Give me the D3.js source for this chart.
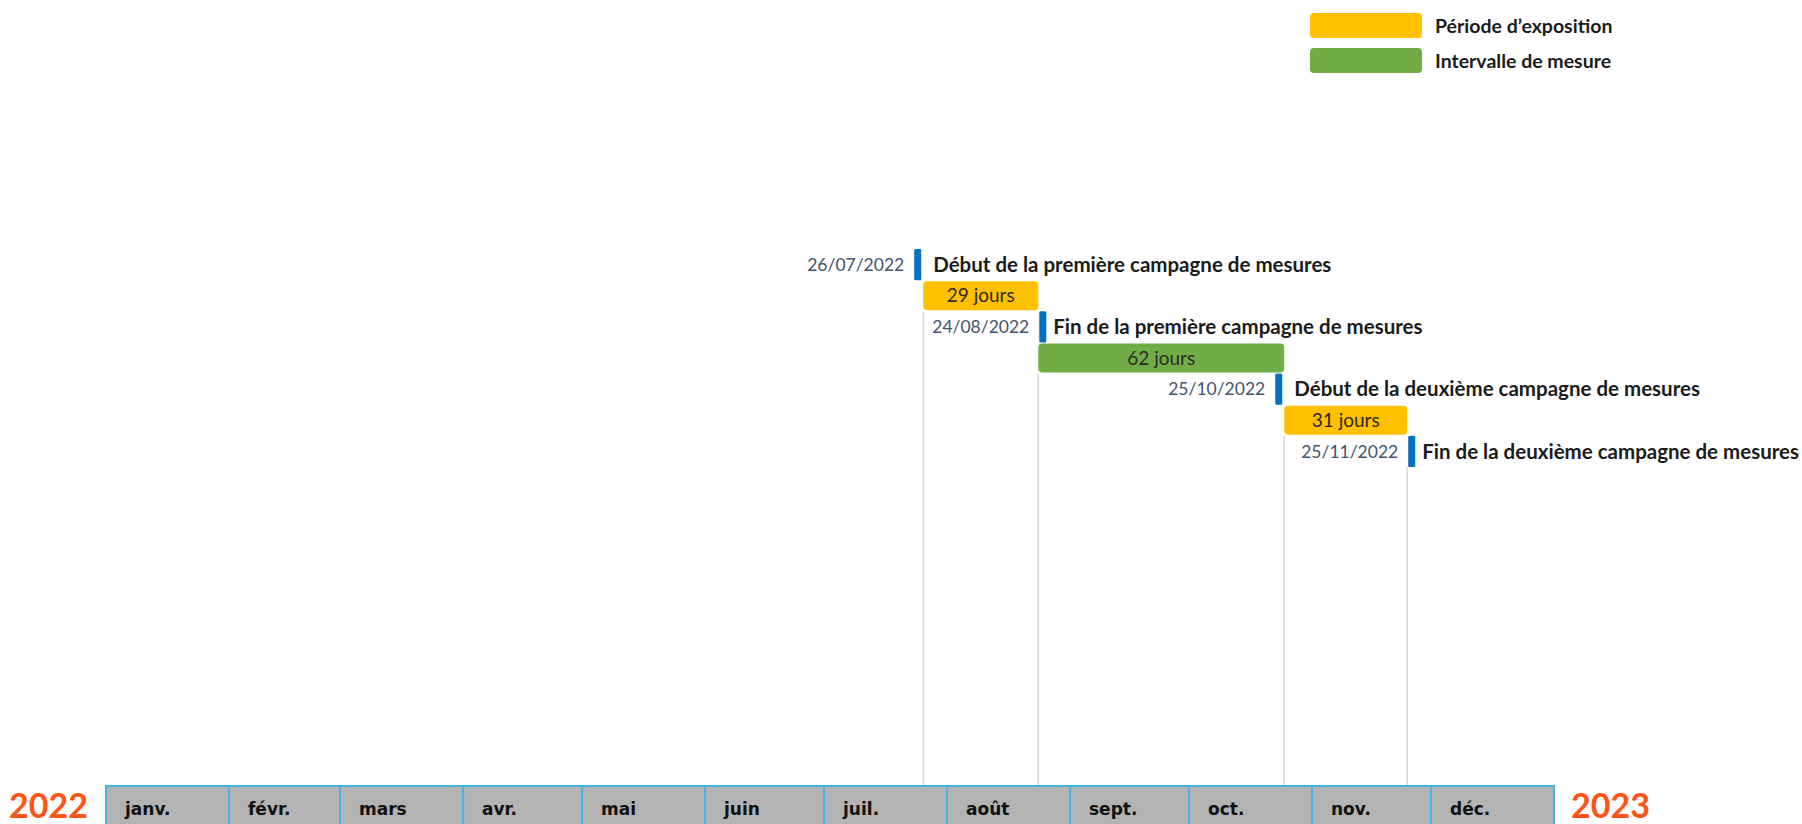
<!DOCTYPE html>
<html>
<head>
<meta charset="utf-8">
<script src="https://cdn.jsdelivr.net/npm/d3@7"></script>
<style>
    body { margin: 0; background: #fff; }
    svg { display: block; }
    .label { font-family: Lato, "Open Sans", sans-serif; font-weight: bold; fill: #1b1b1b; }
    .date { font-family: Lato, "Open Sans", sans-serif; fill: #44546a; }
    .month { font-family: "DejaVu Sans", sans-serif; font-weight: bold; fill: #111; }
</style>
</head>
<body>
<div id="chart"></div>
<script>
// Timeline data
const months = ["janv.", "févr.", "mars", "avr.", "mai", "juin", "juil.", "août", "sept.", "oct.", "nov.", "déc."];
const years = ["2022", "2023"];
const eventDates = ["2022-07-26", "2022-08-24", "2022-10-25", "2022-11-25"];
const eventLabels = [
    "Début de la première campagne de mesures",
    "Fin de la première campagne de mesures",
    "Début de la deuxième campagne de mesures",
    "Fin de la deuxième campagne de mesures"
];
// Each period runs from one event to the next one.
const periodKinds = ["exposition", "mesure", "exposition"];
const legendKinds = ["exposition", "mesure"];
const legendLabels = ["Période d’exposition", "Intervalle de mesure"];

const width = 1802;
const height = 824;

const parseDate = d3.timeParse("%Y-%m-%d");
const formatDate = d3.timeFormat("%d/%m/%Y");

const events = eventDates.map((d, i) => ({
    date: parseDate(d),
    label: eventLabels[i],
    start: eventLabels[i].startsWith("Début")
}));

const periods = periodKinds.map((kind, i) => ({
    kind: kind,
    from: events[i].date,
    to: events[i + 1].date,
    days: d3.timeDay.count(events[i].date, events[i + 1].date)
}));

// Rows alternate: event, period, event, period ...
const rows = [];
events.forEach((e, i) => {
    rows.push({ type: "event", item: e });
    if (periods[i]) rows.push({ type: "period", item: periods[i] });
});

const color = d3.scaleOrdinal()
    .domain(legendKinds)
    .range(["#ffc000", "#70ad47"]);

// Scales
const yearStart = new Date(2022, 0, 1);
const yearEnd = new Date(2023, 0, 1);

const x = d3.scaleTime()
    .domain([yearStart, yearEnd])
    .range([106, 1554]);

const y = d3.scaleBand()
    .domain(d3.range(rows.length))
    .range([249, 467]);

const bandTop = 786;

const svg = d3.select("#chart").append("svg")
    .attr("width", width)
    .attr("height", height);

svg.append("rect")
    .attr("width", width)
    .attr("height", height)
    .attr("fill", "#fff");

// Guide lines from the last element at each date down to the month band.
svg.append("g")
    .selectAll("line")
    .data(events)
    .join("line")
    .attr("x1", d => x(d.date))
    .attr("x2", d => x(d.date))
    .attr("y1", (d, i) => {
        const row = Math.min(i * 2 + 1, rows.length - 1);
        return y(row) + y.bandwidth();
    })
    .attr("y2", bandTop)
    .attr("stroke", "#d6d6d6")
    .attr("stroke-width", 1.5);

// Period bars
const periodRows = rows.map((r, i) => ({ ...r, row: i })).filter(r => r.type === "period");

const bars = svg.append("g")
    .selectAll("g")
    .data(periodRows)
    .join("g");

bars.append("rect")
    .attr("x", d => x(d.item.from))
    .attr("y", d => y(d.row) + 1)
    .attr("width", d => x(d.item.to) - x(d.item.from))
    .attr("height", y.bandwidth() - 2)
    .attr("rx", 4)
    .attr("fill", d => color(d.item.kind));

bars.append("text")
    .attr("class", "date")
    .attr("x", d => (x(d.item.from) + x(d.item.to)) / 2)
    .attr("y", d => y(d.row) + y.bandwidth() / 2)
    .attr("dy", "0.35em")
    .attr("text-anchor", "middle")
    .style("font-size", "19px")
    .style("fill", "#2e2b26")
    .text(d => d.item.days + " jours");

// Event markers
const eventRows = rows.map((r, i) => ({ ...r, row: i })).filter(r => r.type === "event");
const markerWidth = 7;

const marks = svg.append("g")
    .selectAll("g")
    .data(eventRows)
    .join("g");

const markerX = d => d.item.start ? x(d.item.date) - markerWidth - 2 : x(d.item.date) + 1;

marks.append("rect")
    .attr("x", markerX)
    .attr("y", d => y(d.row))
    .attr("width", markerWidth)
    .attr("height", y.bandwidth())
    .attr("rx", 1.5)
    .attr("fill", "#0070c0");

marks.append("text")
    .attr("class", "date")
    .attr("x", d => markerX(d) - 10)
    .attr("y", d => y(d.row) + y.bandwidth() / 2)
    .attr("dy", "0.35em")
    .attr("text-anchor", "end")
    .style("font-size", "17.5px")
    .text(d => formatDate(d.item.date));

marks.append("text")
    .attr("class", "label")
    .attr("x", d => markerX(d) + markerWidth + (d.item.start ? 12 : 7))
    .attr("y", d => y(d.row) + y.bandwidth() / 2)
    .attr("dy", "0.35em")
    .style("font-size", "20.5px")
    .text(d => d.item.label);

// Month band
const monthStarts = d3.timeMonths(yearStart, yearEnd);

const cells = svg.append("g")
    .selectAll("g")
    .data(monthStarts)
    .join("g");

cells.append("rect")
    .attr("x", d => x(d))
    .attr("y", bandTop)
    .attr("width", d => x(d3.timeMonth.offset(d, 1)) - x(d))
    .attr("height", 60)
    .attr("fill", "#b3b3b3")
    .attr("stroke", "#47b3e3")
    .attr("stroke-width", 2);

cells.append("text")
    .attr("class", "month")
    .attr("x", d => x(d) + 19)
    .attr("y", 815)
    .style("font-size", "17px")
    .text((d, i) => months[i]);

// Year labels on both ends of the band
svg.append("g")
    .selectAll("text")
    .data(years)
    .join("text")
    .attr("x", (d, i) => i === 0 ? x(yearStart) - 18 : x(yearEnd) + 17)
    .attr("y", 818)
    .attr("text-anchor", (d, i) => i === 0 ? "end" : "start")
    .style("font-family", "Lato, sans-serif")
    .style("font-weight", "bold")
    .style("font-size", "34px")
    .style("fill", "#ff5414")
    .text(d => d);

// Legend
const legend = svg.append("g")
    .attr("transform", "translate(1310, 13)");

const legendItem = legend.selectAll("g")
    .data(legendKinds)
    .join("g")
    .attr("transform", (d, i) => "translate(0," + i * 35 + ")");

legendItem.append("rect")
    .attr("width", 112)
    .attr("height", 25)
    .attr("rx", 4)
    .attr("fill", d => color(d));

legendItem.append("text")
    .attr("class", "label")
    .attr("x", 125)
    .attr("y", 13)
    .attr("dy", "0.35em")
    .style("font-size", "19.5px")
    .text((d, i) => legendLabels[i]);
</script>
</body>
</html>
